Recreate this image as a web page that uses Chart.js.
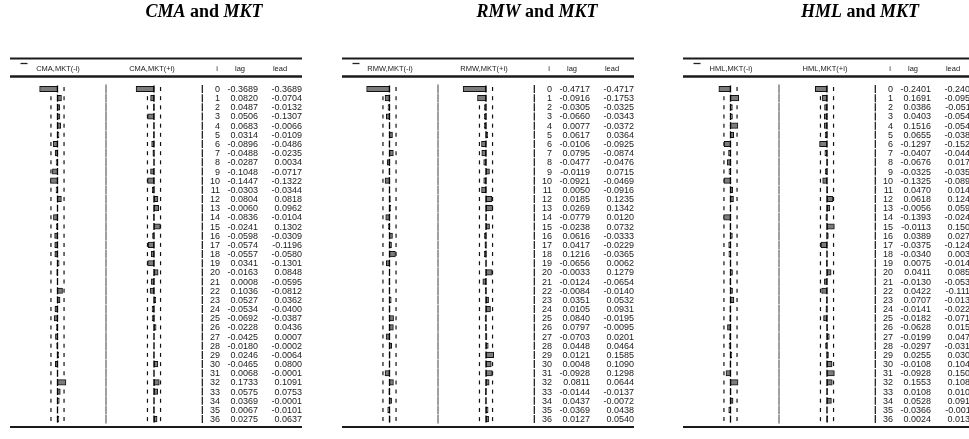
<!DOCTYPE html>
<html>
<head>
<meta charset="utf-8">
<script src="https://cdn.jsdelivr.net/npm/chart.js@4.4.1/dist/chart.umd.min.js"></script>
<style>
  html, body { margin: 0; padding: 0; background: #fff; }
</style>
</head>
<body>
<canvas id="myChart" width="969" height="439"></canvas>
<script>
// lag index 0..36
var lags = [0, 1, 2, 3, 4, 5, 6, 7, 8, 9, 10, 11, 12, 13, 14, 15, 16, 17, 18,
    19, 20, 21, 22, 23, 24, 25, 26, 27, 28, 29, 30, 31, 32, 33, 34, 35, 36];

var cmaLag = [-0.3689, 0.0820, 0.0487, 0.0506, 0.0683, 0.0314, -0.0896, -0.0488, -0.0287, -0.1048,
    -0.1447, -0.0303, 0.0804, -0.0060, -0.0836, -0.0241, -0.0598, -0.0574, -0.0557, 0.0341,
    -0.0163, 0.0008, 0.1036, 0.0527, -0.0534, -0.0692, -0.0228, -0.0425, -0.0180, 0.0246,
    -0.0465, 0.0068, 0.1733, 0.0575, 0.0369, 0.0067, 0.0275];
var cmaLead = [-0.3689, -0.0704, -0.0132, -0.1307, -0.0066, -0.0109, -0.0486, -0.0235, 0.0034, -0.0717,
    -0.1322, -0.0344, 0.0818, 0.0962, -0.0104, 0.1302, -0.0309, -0.1196, -0.0580, -0.1301,
    0.0848, -0.0595, -0.0812, 0.0362, -0.0400, -0.0387, 0.0436, 0.0007, -0.0002, -0.0064,
    0.0800, -0.0001, 0.1091, 0.0753, -0.0001, -0.0101, 0.0637];

var rmwLag = [-0.4717, -0.0916, -0.0305, -0.0660, 0.0077, 0.0617, -0.0106, 0.0795, -0.0477, -0.0119,
    -0.0921, 0.0050, 0.0185, 0.0269, -0.0779, -0.0238, 0.0616, 0.0417, 0.1216, -0.0656,
    -0.0033, -0.0124, -0.0084, 0.0351, 0.0105, 0.0840, 0.0797, -0.0703, 0.0448, 0.0121,
    0.0048, -0.0928, 0.0811, -0.0144, 0.0437, -0.0369, 0.0127];
var rmwLead = [-0.4717, -0.1753, -0.0325, -0.0343, -0.0372, 0.0364, -0.0925, -0.0874, -0.0476, 0.0715,
    -0.0469, -0.0916, 0.1235, 0.1342, 0.0120, 0.0732, -0.0333, -0.0229, -0.0365, 0.0062,
    0.1279, -0.0654, -0.0140, 0.0532, 0.0931, -0.0195, -0.0095, 0.0201, 0.0464, 0.1585,
    0.1090, 0.1298, 0.0644, -0.0137, -0.0072, 0.0438, 0.0540];

var hmlLag = [-0.2401, 0.1691, 0.0386, 0.0403, 0.1516, 0.0655, -0.1297, -0.0407, -0.0676, -0.0325,
    -0.1325, 0.0470, 0.0618, -0.0056, -0.1393, -0.0113, 0.0389, -0.0375, -0.0340, 0.0075,
    0.0411, -0.0130, 0.0422, 0.0707, -0.0141, -0.0182, -0.0628, -0.0199, -0.0297, 0.0255,
    -0.0108, -0.0928, 0.1553, 0.0108, 0.0528, -0.0366, 0.0024];
var hmlLead = [-0.2401, -0.0951, -0.0511, -0.0545, -0.0544, -0.0383, -0.1526, -0.0443, 0.0171, -0.0351,
    -0.0892, 0.0146, 0.1243, 0.0591, -0.0247, 0.1509, 0.0278, -0.1241, 0.0032, -0.0149,
    0.0851, -0.0539, -0.1112, -0.0133, -0.0226, -0.0713, 0.0152, 0.0477, -0.0312, 0.0306,
    0.1045, 0.1509, 0.1087, 0.0108, 0.0910, -0.0011, 0.0138];

var factors = ['CMA', 'RMW', 'HML'];
var market = 'MKT';
var lagSeries = [cmaLag, rmwLag, hmlLag];
var leadSeries = [cmaLead, rmwLead, hmlLead];
var bound = 0.135;   // approx. 2 std. error band

// layout
var W = 969;
var panelX = [0, 332, 673];
var titleX = [204, 537, 860];
var pxPerUnit = 48.5;
var zeroLag = 57.5, zeroLead = 154;
var bottomRule = 427;

function hiddenAxis(z) {
    return { type: 'linear', display: false, min: -z / pxPerUnit, max: (W - z) / pxPerUnit };
}

var scales = {
    y: { type: 'category', display: false, offset: true, grid: { display: false }, ticks: { autoSkip: false } }
};
var datasets = [];
for (var p = 0; p < 3; p++) {
    scales['lag' + p] = hiddenAxis(panelX[p] + zeroLag);
    scales['lead' + p] = hiddenAxis(panelX[p] + zeroLead);
    datasets.push({ label: factors[p] + ',' + market + '(-i)', data: lagSeries[p], xAxisID: 'lag' + p });
    datasets.push({ label: factors[p] + ',' + market + '(+i)', data: leadSeries[p], xAxisID: 'lead' + p });
}
datasets.forEach(function(d) {
    d.backgroundColor = '#7c7c7c';
    d.borderColor = '#111';
    d.borderWidth = 1;
    d.borderSkipped = false;
    d.barThickness = 5.5;
    d.grouped = false;
});

function seg(ctx, x1, y1, x2, y2) {
    ctx.beginPath();
    ctx.moveTo(x1, y1);
    ctx.lineTo(x2, y2);
    ctx.stroke();
}

var tablePlugin = {
    id: 'tablePlugin',
    beforeDatasetsDraw: function(chart) {
        var ctx = chart.ctx;
        var ys = chart.scales.y;
        ctx.save();
        for (var p = 0; p < 3; p++) {
            var dx = panelX[p];
            var ax = [chart.scales['lag' + p], chart.scales['lead' + p]];
            lags.forEach(function(l, i) {
                var y = ys.getPixelForValue(i);
                // band ticks
                ctx.strokeStyle = '#111';
                ctx.lineWidth = 1.2;
                ax.forEach(function(a) {
                    seg(ctx, a.getPixelForValue(-bound), y - 2, a.getPixelForValue(-bound), y + 2);
                    seg(ctx, a.getPixelForValue(bound), y - 2, a.getPixelForValue(bound), y + 2);
                });
                // separators
                ctx.strokeStyle = '#777';
                ctx.lineWidth = 1.4;
                seg(ctx, dx + 106, y - 4.4, dx + 106, y + 4.4);
                ctx.strokeStyle = '#111';
                ctx.lineWidth = 1.2;
                seg(ctx, dx + 202.3, y - 4, dx + 202.3, y + 4);
            });
        }
        ctx.restore();
    },
    afterDatasetsDraw: function(chart) {
        var ctx = chart.ctx;
        var ys = chart.scales.y;
        ctx.save();
        for (var p = 0; p < 3; p++) {
            var dx = panelX[p];
            var ax = [chart.scales['lag' + p], chart.scales['lead' + p]];

            // zero lines
            ctx.strokeStyle = '#000';
            ctx.lineWidth = 1.3;
            lags.forEach(function(l, i) {
                var y = ys.getPixelForValue(i);
                ax.forEach(function(a) {
                    var z = a.getPixelForValue(0);
                    seg(ctx, z, y - 3.5, z, y + 3.5);
                });
            });

            // numbers
            ctx.fillStyle = '#1a1a1a';
            ctx.font = '9px "Liberation Sans", Arial, sans-serif';
            ctx.textAlign = 'right';
            ctx.textBaseline = 'middle';
            lags.forEach(function(l, i) {
                var y = ys.getPixelForValue(i) + 0.5;
                ctx.fillText(String(l), dx + 220, y);
                ctx.fillText(lagSeries[p][i].toFixed(4), dx + 258, y);
                ctx.fillText(leadSeries[p][i].toFixed(4), dx + 302, y);
            });

            // header
            ctx.font = '7.5px "Liberation Sans", Arial, sans-serif';
            ctx.textAlign = 'center';
            ctx.fillText(factors[p] + ',' + market + '(-i)', dx + 58, 69);
            ctx.fillText(factors[p] + ',' + market + '(+i)', dx + 152, 69);
            ctx.fillText('i', dx + 217, 69);
            ctx.fillText('lag', dx + 240, 69);
            ctx.fillText('lead', dx + 280, 69);
            ctx.strokeStyle = '#222';
            ctx.lineWidth = 1.3;
            seg(ctx, dx + 20.5, 63.5, dx + 27.5, 63.5);

            // rules
            ctx.strokeStyle = '#1a1a1a';
            ctx.lineWidth = 2;
            seg(ctx, dx + 10, 58.5, dx + 302, 58.5);
            ctx.lineWidth = 2.5;
            seg(ctx, dx + 10, 76.5, dx + 302, 76.5);
            ctx.lineWidth = 2;
            seg(ctx, dx + 10, bottomRule, dx + 302, bottomRule);

            // title: italic factor names, upright "and"
            var parts = [
                { t: factors[p], f: 'italic bold 18px "Liberation Serif", serif' },
                { t: ' and ', f: 'bold 18px "Liberation Serif", serif' },
                { t: market, f: 'italic bold 18px "Liberation Serif", serif' }
            ];
            var total = 0;
            parts.forEach(function(o) { ctx.font = o.f; o.w = ctx.measureText(o.t).width; total += o.w; });
            var x = titleX[p] - total / 2;
            ctx.textAlign = 'left';
            ctx.textBaseline = 'alphabetic';
            ctx.fillStyle = '#000';
            parts.forEach(function(o) { ctx.font = o.f; ctx.fillText(o.t, x, 17); x += o.w; });
        }
        ctx.restore();
    }
};

var ctx = document.getElementById('myChart').getContext('2d');
var myChart = new Chart(ctx, {
    type: 'bar',
    data: { labels: lags, datasets: datasets },
    options: {
        indexAxis: 'y',
        responsive: false,
        animation: false,
        layout: { padding: { top: 84.4, bottom: 15.3, left: 0, right: 0 } },
        plugins: { legend: { display: false }, tooltip: { enabled: false } },
        scales: scales
    },
    plugins: [tablePlugin]
});
</script>
</body>
</html>
